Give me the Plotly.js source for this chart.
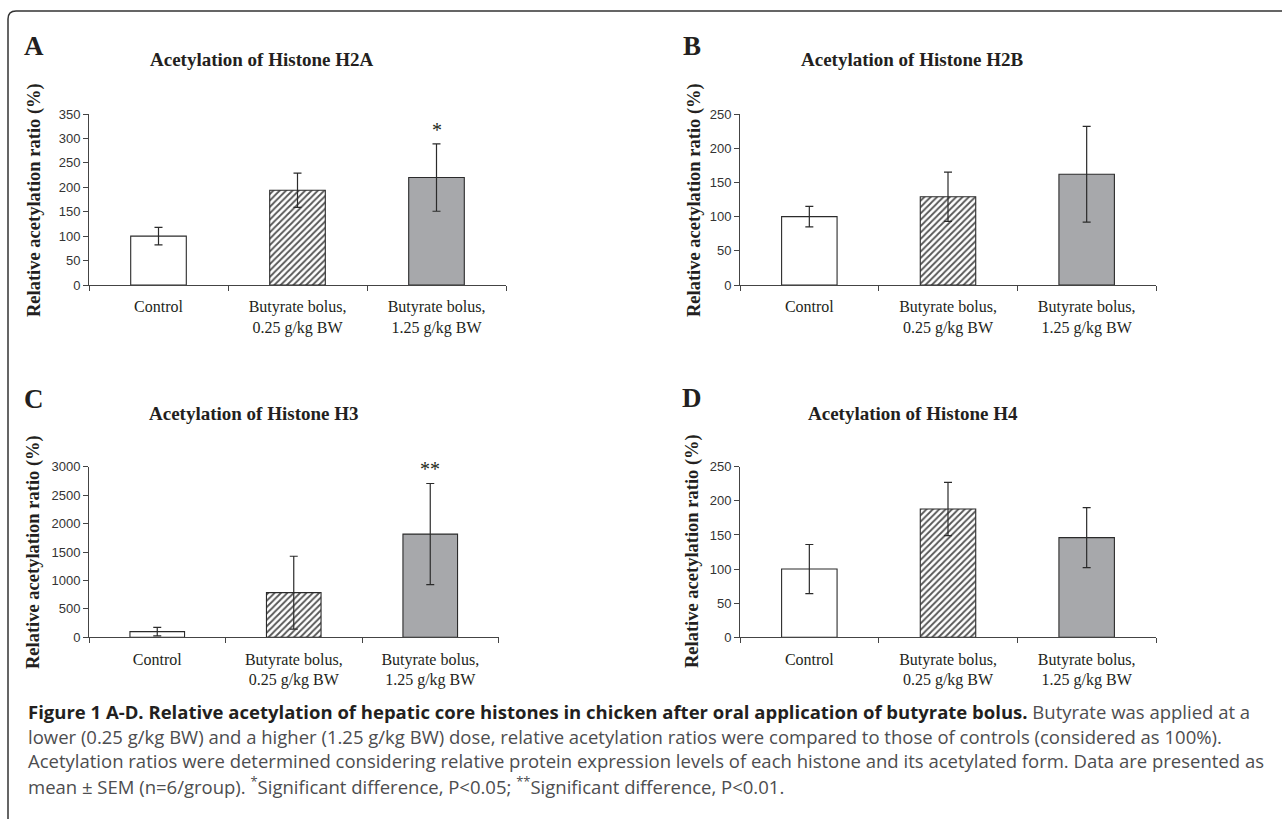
<!DOCTYPE html>
<html>
<head>
<meta charset="utf-8">
<script src="https://cdn.plot.ly/plotly-3.0.1.min.js"></script>
<style>
  html, body { margin: 0; padding: 0; background: #ffffff; }
  #chart { width: 1282px; height: 819px; }
</style>
</head>
<body>
<div id="chart"></div>
<script>
// ---- data ----
var categories = ["Control", "Butyrate bolus, 0.25 g/kg BW", "Butyrate bolus, 1.25 g/kg BW"];
var categoryLabels = ["Control", "Butyrate bolus,<br>0.25 g/kg BW", "Butyrate bolus,<br>1.25 g/kg BW"];

var h2aValues = [100, 194, 220];
var h2aErrors = [18, 35, 69];

var h2bValues = [100, 129, 162];
var h2bErrors = [15, 36, 70];

var h3Values = [100, 785, 1815];
var h3Errors = [75, 640, 890];

var h4Values = [100, 188, 146];
var h4Errors = [36, 39, 44];

var panelLetters = ["A", "B", "C", "D"];
var panelTitles = ["Acetylation of Histone H2A", "Acetylation of Histone H2B",
                   "Acetylation of Histone H3", "Acetylation of Histone H4"];
var yTitle = "Relative acetylation ratio (%)";
var yRanges = [[0, 350], [0, 250], [0, 3000], [0, 250]];
var yDticks = [50, 50, 500, 50];
var significance = [["*", 2], null, ["**", 2], null]; // [mark, category index]

// ---- styles ----
var groupFill = ["#ffffff", "#ffffff", "#a7a8ab"];
var groupPattern = ["", "/", ""];

var W = 1282, H = 819;
function px(x) { return x / W; }
function py(y) { return 1 - y / H; }

var serif = "Liberation Serif, Times New Roman, serif";
var sans = "Liberation Sans, Arial, sans-serif";
var captionFont = "Open Sans, Noto Sans, sans-serif";

var allValues = [h2aValues, h2bValues, h3Values, h4Values];
var allErrors = [h2aErrors, h2bErrors, h3Errors, h4Errors];

// plot area boxes in pixels [left, right, top, bottom]
var boxes = [
  [89, 506, 114, 285],
  [740, 1156, 114, 285],
  [89, 498.5, 466.7, 637.3],
  [740, 1156, 466.7, 637.3]
];
var titlePos = [[262, 60], [912, 60], [254, 413], [913, 413]];
var letterPos = [[34, 46], [692, 46], [34, 399], [692, 398]];
var yTitlePos = [[34, 200], [694, 200], [33, 552], [692, 551]];

var traces = [];
var layout = {
  width: W, height: H,
  margin: {l: 0, r: 0, t: 0, b: 0},
  paper_bgcolor: "#ffffff",
  plot_bgcolor: "#ffffff",
  showlegend: false,
  barmode: "overlay",
  bargap: 0.6,
  annotations: [],
  shapes: []
};

for (var i = 0; i < 4; i++) {
  var n = i + 1;
  var xa = "x" + (n === 1 ? "" : n);
  var ya = "y" + (n === 1 ? "" : n);
  for (var k = 0; k < categories.length; k++) {
    var marker = {
      color: groupFill[k],
      line: {color: "#2b2b2b", width: 1.1}
    };
    if (groupPattern[k]) {
      marker.pattern = {shape: groupPattern[k], fgcolor: "#555555", bgcolor: "#ffffff",
                        fgopacity: 1, size: 4.5, solidity: 0.4, fillmode: "replace"};
    }
    traces.push({
      type: "bar",
      x: [categories[k]],
      y: [allValues[i][k]],
      xaxis: xa, yaxis: ya,
      marker: marker,
      error_y: {type: "data", array: [allErrors[i][k]], visible: true, color: "#2b2b2b", thickness: 1.2, width: 4},
      hoverinfo: "skip"
    });
  }
  var b = boxes[i];
  layout["xaxis" + (n === 1 ? "" : n)] = {
    domain: [px(b[0]), px(b[1])],
    anchor: ya,
    type: "category",
    categoryorder: "array",
    categoryarray: categories,
    range: [-0.5, 2.5],
    tickmode: "array",
    tickvals: categories,
    ticktext: categoryLabels,
    tickson: "boundaries",
    ticks: "outside", ticklen: 5, tickcolor: "#444", tickwidth: 1,
    ticklabelstandoff: 7,
    showline: true, linecolor: "#444", linewidth: 1,
    showgrid: false, zeroline: false,
    tickfont: {family: serif, size: 16, color: "#231f20"},
    fixedrange: true
  };
  layout["yaxis" + (n === 1 ? "" : n)] = {
    domain: [py(b[3]), py(b[2])],
    anchor: xa,
    range: yRanges[i],
    dtick: yDticks[i],
    tick0: 0,
    ticks: "outside", ticklen: 5, tickcolor: "#444", tickwidth: 1,
    showline: true, linecolor: "#444", linewidth: 1,
    showgrid: false, zeroline: false,
    tickfont: {family: sans, size: 13, color: "#333333"},
    fixedrange: true
  };
  layout.annotations.push({
    xref: "paper", yref: "paper", x: px(titlePos[i][0]), y: py(titlePos[i][1]),
    xanchor: "center", yanchor: "middle", showarrow: false,
    text: "<b>" + panelTitles[i] + "</b>",
    font: {family: serif, size: 19, color: "#231f20"}
  });
  layout.annotations.push({
    xref: "paper", yref: "paper", x: px(letterPos[i][0]), y: py(letterPos[i][1]),
    xanchor: "center", yanchor: "middle", showarrow: false,
    text: "<b>" + panelLetters[i] + "</b>",
    font: {family: serif, size: 27, color: "#231f20"}
  });
  layout.annotations.push({
    xref: "paper", yref: "paper", x: px(yTitlePos[i][0]), y: py(yTitlePos[i][1]),
    xanchor: "center", yanchor: "middle", showarrow: false, textangle: -90,
    text: "<b>" + yTitle + "</b>",
    font: {family: serif, size: 18.5, color: "#231f20"}
  });
  if (significance[i]) {
    var s = significance[i][1];
    layout.annotations.push({
      xref: xa, yref: ya, x: categories[s], y: allValues[i][s] + allErrors[i][s],
      xanchor: "center", yanchor: "bottom", yshift: 1, showarrow: false,
      text: significance[i][0],
      font: {family: serif, size: 20, color: "#231f20"}
    });
  }
}

// caption
var captionLines = [
  "<span style=\"color:#231f20\"><b>Figure 1 A-D. Relative acetylation of hepatic core histones in chicken after oral application of butyrate bolus.</b></span> Butyrate was applied at a",
  "lower (0.25 g/kg BW) and a higher (1.25 g/kg BW) dose, relative acetylation ratios were compared to those of controls (considered as 100%).",
  "Acetylation ratios were determined considering relative protein expression levels of each histone and its acetylated form. Data are presented as",
  "mean ± SEM (n=6/group). <sup>*</sup>Significant difference, P&lt;0.05; <sup>**</sup>Significant difference, P&lt;0.01."
];
var captionY = [711, 736, 760, 785];
for (var j = 0; j < captionLines.length; j++) {
  layout.annotations.push({
    xref: "paper", yref: "paper", x: px(26), y: py(captionY[j]),
    xanchor: "left", yanchor: "middle", showarrow: false, align: "left",
    text: captionLines[j],
    font: {family: captionFont, size: 18.5, color: "#4d4d4f"}
  });
}

// frame with rounded top-left corner
layout.shapes.push({
  type: "path", xref: "paper", yref: "paper",
  path: "M " + px(8) + "," + py(819) + " L " + px(8) + "," + py(19) +
        " Q " + px(8) + "," + py(11) + " " + px(16) + "," + py(11) +
        " L " + px(1282) + "," + py(11),
  line: {color: "#333333", width: 1.5}
});

Plotly.newPlot("chart", traces, layout, {displayModeBar: false, staticPlot: true});
</script>
</body>
</html>
